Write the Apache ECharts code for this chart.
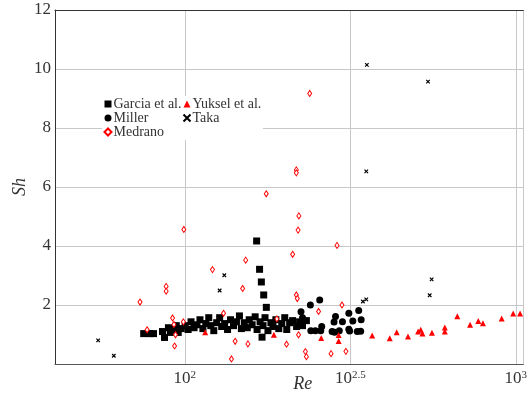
<!DOCTYPE html>
<html><head><meta charset="utf-8">
<script src="https://cdn.jsdelivr.net/npm/echarts@6/dist/echarts.min.js"></script>
<style>html,body{margin:0;padding:0;background:#fff}#c{width:530px;height:398px}</style>
</head><body><div id="c"></div>
<script>
const garciaRe = [75.1,78.3,80.4,85.6,86.8,89.2,90.4,92.3,94.2,95.5,97.5,100.2,102.3,104.4,106.6,108.8,111.1,113.4,115.7,118.1,119.8,122.3,124.8,127.4,129.2,131.9,134.6,137.4,140.3,143.2,146.2,148.2,151.2,154.4,156.5,159.7,163.1,165.3,168.8,172.3,174.7,178.3,182.0,184.6,188.4,192.3,196.3,200.4,203.2,207.4,211.7,217.6,222.2,226.8,233.0,164.8,168.2,170.3,173.1,176.3,171.1];
const garciaSh = [1.03,1.03,1.03,1.10,0.90,1.23,1.07,1.17,1.30,1.07,1.20,1.30,1.17,1.43,1.23,1.33,1.50,1.20,1.37,1.57,1.30,1.13,1.40,1.57,1.27,1.37,1.17,1.50,1.30,1.43,1.63,1.20,1.40,1.23,1.50,1.33,1.60,1.17,1.43,1.30,1.57,1.13,1.40,1.27,1.50,1.20,1.37,1.57,1.17,1.40,1.47,1.27,1.43,1.30,1.47,4.17,3.21,2.78,2.34,1.92,0.91];

const millerRe = [224.4,226.8,225.2,239.5,255.6,240.3,247.9,259.2,257.4,285.3,282.4,299.4,313.0,321.8,335.3,341.1,278.6,283.4,292.9,313.0,314.7,331.9,339.9];
const millerSh = [1.77,1.57,1.35,2.00,2.17,1.13,1.13,1.27,1.13,1.61,1.42,1.43,1.72,1.46,1.81,1.50,1.10,1.08,1.13,1.18,1.12,1.10,1.11];

const medranoRe = [73.2,76.9,87.8,87.8,91.8,92.7,93.7,93.1,99.0,99.3,121.2,152.7,149.5,130.9,141.9,155.1,138.3,189.7,202.9,211.7,217.2,218.7,221.1,219.9,220.6,231.4,233.0,253.6,288.3,298.4,276.6,306.7,238.4,217.2,217.2,176.2];
const medranoSh = [2.10,1.16,2.63,2.47,1.56,1.34,0.99,0.61,1.43,4.56,3.20,3.52,2.56,1.72,0.77,0.68,0.17,1.53,0.67,3.72,2.34,2.22,5.02,4.54,0.99,0.42,0.25,1.78,4.02,2.00,0.35,0.43,9.17,6.58,6.48,5.77];

const yukselRe = [115.2,185.8,258.3,291.6,291.6,368.3,416.2,436.7,472.5,506.9,516.4,522.4,558.0,610.3,610.3,665.8,727.8,770.6,795.8,906.7,982.4,1030.6];
const yukselSh = [1.08,0.99,0.88,0.98,0.78,0.97,0.87,1.08,0.93,1.10,1.16,1.03,1.06,1.24,1.10,1.62,1.33,1.46,1.38,1.54,1.71,1.71];

const takaRe = [54.7,61.0,131.6,127.4,345.2,353.4,556.9,549.4,354.8,353.4,543.0];
const takaSh = [0.80,0.28,3.01,2.49,2.12,2.19,2.87,2.33,10.14,6.53,9.57];

const seriesNames = ['Garcia et al.','Miller','Medrano','Yuksel et al.','Taka'];
const yTicks = [0,2,4,6,8,10,12];
const xMin = Math.pow(10,1.6076), xMax = Math.pow(10,3.0229);

const FONT = '"Liberation Serif", "DejaVu Serif", serif';
const zip = (a,b)=>a.map((v,i)=>[v,b[i]]);
const chart = echarts.init(document.getElementById('c'), null, {renderer:'canvas'});
const legendText = {fontFamily:FONT, fontSize:14, color:'#333', lineHeight:13.5, padding:[0,0,0,-3]};
chart.setOption({
  animation:false,
  backgroundColor:'#fff',
  grid:{left:55, top:10, right:0, height:359},
  graphic:[{type:'rect', left:102, top:96, shape:{width:161, height:44}, style:{fill:'#fff'}, z:1, silent:true}],
  legend:[
    {data:[seriesNames[0],seriesNames[1],seriesNames[2]], left:103.5, top:97, orient:'vertical', itemGap:0, itemWidth:7, itemHeight:7, padding:0, textStyle:legendText},
    {data:[seriesNames[3],seriesNames[4]], left:182.5, top:97, orient:'vertical', itemGap:0, itemWidth:7, itemHeight:7, padding:0, textStyle:legendText}
  ],
  xAxis:[{
    type:'log', logBase:Math.sqrt(10), min:xMin, max:xMax,
    axisLine:{show:true, lineStyle:{color:'#555', width:1}},
    axisTick:{show:false},
    splitLine:{show:true, lineStyle:{color:'#c8c8c8', width:1}},
    axisLabel:{
      showMinLabel:false, showMaxLabel:false, margin:6,
      formatter:function(v){ const e = Math.round(Math.log10(v)*10)/10; return '{b|10}{s|'+e+'}'; },
      rich:{b:{fontFamily:FONT, fontSize:17, color:'#333'}, s:{fontFamily:FONT, fontSize:11, color:'#333', verticalAlign:'top', padding:[0,0,7,0]}}
    },
    name:'Re', nameLocation:'middle', nameGap:11, nameMoveOverlap:false,
    nameTextStyle:{fontFamily:FONT, fontStyle:'italic', fontSize:18, color:'#333', padding:[0,0,0,27]}
  },{
    type:'log', logBase:Math.sqrt(10), min:xMin, max:xMax, position:'top',
    axisLine:{show:true, lineStyle:{color:'#333', width:1}},
    axisTick:{show:false}, axisLabel:{show:false}, splitLine:{show:false}
  }],
  yAxis:{
    type:'value', min:yTicks[0], max:yTicks[yTicks.length-1], interval:2,
    axisLine:{show:true, lineStyle:{color:'#333'}},
    axisTick:{show:false},
    splitLine:{show:true, lineStyle:{color:'#c8c8c8', width:1}},
    axisLabel:{showMinLabel:false, fontFamily:FONT, fontSize:17, color:'#333', margin:4},
    name:'Sh', nameLocation:'middle', nameGap:26, nameRotate:90, nameMoveOverlap:false,
    nameTextStyle:{fontFamily:FONT, fontStyle:'italic', fontSize:18, color:'#333'}
  },
  series:[
    {type:'scatter', name:seriesNames[0], data:zip(garciaRe,garciaSh), symbol:'rect', symbolSize:7, itemStyle:{color:'#000', opacity:1}, silent:true},
    {type:'scatter', name:seriesNames[1], data:zip(millerRe,millerSh), symbol:'circle', symbolSize:7, itemStyle:{color:'#000', opacity:1}, silent:true},
    {type:'scatter', name:seriesNames[2], data:zip(medranoRe,medranoSh), symbol:'diamond', symbolSize:[4,6], itemStyle:{color:'#fff', borderColor:'#ff0000', borderWidth:1, opacity:1}, silent:true},
    {type:'scatter', name:seriesNames[3], data:zip(yukselRe,yukselSh), symbol:'triangle', symbolSize:6, itemStyle:{color:'#ff0000', opacity:1}, silent:true},
    {type:'scatter', name:seriesNames[4], data:zip(takaRe,takaSh), symbol:'path://M0,0L10,10M10,0L0,10', symbolSize:3.5, itemStyle:{color:'#000', borderColor:'#000', borderWidth:1.2, opacity:1}, silent:true}
  ]
});
</script></body></html>
